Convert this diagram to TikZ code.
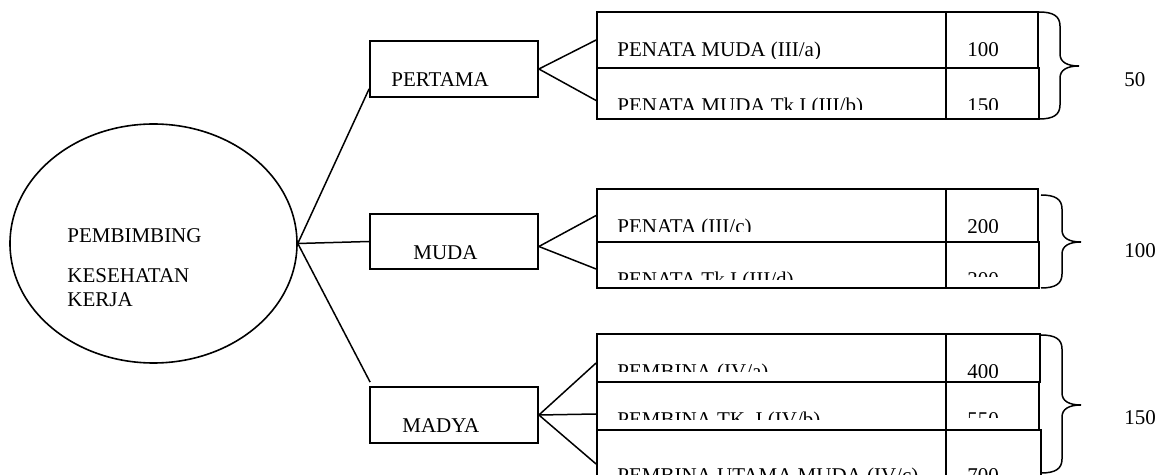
\documentclass[tikz,border=0pt]{standalone}
\usepackage{fontspec}
\setmainfont{Liberation Serif}
\usetikzlibrary{shapes.geometric,fit,calc}
\tikzset{
  conn/.style={draw, line width=0.75pt},
  cell/.style={draw, line width=0.9pt, inner sep=0pt},
  catbox/.style={draw, line width=0.9pt, inner sep=0pt},
  lbl/.style={anchor=base west, inner sep=0pt, font=\fontsize{10.5}{12.6}\selectfont},
}
% #1 id, #2 top, #3 bottom, #4 number-cell right, #5 name, #6 number, #7 name clip, #8 number clip, #9 baseline offset
\newcommand\rowcells[9]{%
  \node[cell, fit={(597,#2) (946,#3)}] (#1) {};
  \node[cell, fit={(946,#2) (#4,#3)}] (#1n) {};
  \begin{scope}
    \clip (597,#2) rectangle (946,#7);
    \node[lbl] (#1t) at (617,#2+#9) {#5};
  \end{scope}
  \begin{scope}
    \clip (946,#2) rectangle (#4,#8);
    \node[lbl] (#1v) at (967,#2+#9) {#6};
  \end{scope}
}
% #1 left x, #2 top, #3 bottom, #4 tip y
\newcommand\rbrc[4]{%
  \draw[conn] (#1,#2) .. controls (#1+14,#2) and (#1+21,#2+4) .. (#1+21,#2+14)
    -- (#1+21,#4-12) .. controls (#1+21,#4-4) and (#1+28,#4) .. (#1+40,#4)
    .. controls (#1+28,#4) and (#1+21,#4+4) .. (#1+21,#4+12)
    -- (#1+21,#3-14) .. controls (#1+21,#3-4) and (#1+14,#3) .. (#1,#3);
}
\begin{document}
\begin{tikzpicture}[x=0.5pt,y=-0.5pt]
\useasboundingbox (0,0) rectangle (1163,475);

% root
\node[draw, ellipse, line width=0.8pt, minimum width=143.5pt, minimum height=119.5pt, inner sep=0pt] (ell) at (153.5,243.5) {};
\node[lbl] (e1) at (67,243) {PEMBIMBING};
\node[lbl] (e2) at (67,283) {KESEHATAN};
\node[lbl] (e3) at (67,307) {KERJA};

% levels
\node[catbox, fit={(370,41) (538,97)}] (pertama) {};
\node[lbl] (pertamat) at (391,87) {PERTAMA};
\node[catbox, fit={(370,214) (538,269)}] (muda) {};
\node[lbl] (mudat) at (413,260) {MUDA};
\node[catbox, fit={(370,387) (538,443)}] (madya) {};
\node[lbl] (madyat) at (402,433) {MADYA};

% grade rows
\rowcells{r11}{12}{68}{1038}{PENATA MUDA (III/a)}{100}{59}{60}{45}
\rowcells{r12}{68}{119}{1039}{PENATA MUDA Tk I (III/b)}{150}{110}{110}{45}
\rowcells{r21}{189}{242}{1038}{PENATA (III/c)}{200}{232}{233}{45}
\rowcells{r22}{242}{288}{1039}{PENATA Tk I (III/d)}{300}{280}{277}{45}
\rowcells{r31}{334}{382}{1040}{PEMBINA (IV/a)}{400}{372}{378}{45}
\rowcells{r32}{382}{430}{1039}{PEMBINA TK. I (IV/b)}{550}{420}{418}{45}
\rowcells{r33}{430}{520}{1041}{PEMBINA UTAMA MUDA (IV/c)}{700}{500}{500}{53}

% connectors root -> levels
\draw[conn] (ell.east) -- ($(pertama.south west)+(0,-9)$);
\draw[conn] (ell.east) -- (muda.west);
\draw[conn] (ell.east) -- ($(madya.north west)+(1,-4)$);

% levels -> grades
\draw[conn] (pertama.east) -- (r11.west);
\draw[conn] (pertama.east) -- ($(r12.west)+(0,7)$);
\coordinate (mudaj) at ($(muda.east)+(0,5)$);
\draw[conn] (mudaj) -- (r21.west);
\draw[conn] (mudaj) -- ($(r22.west)+(0,4)$);
\draw[conn] (madya.east) -- ($(r31.west)+(0,5)$);
\draw[conn] (madya.east) -- ($(r32.west)+(0,8)$);
\draw[conn] (madya.east) -- ($(r33.west)+(0,-11)$);

% braces and totals
\rbrc{1039}{12}{119}{66}
\rbrc{1041}{195}{288}{242}
\rbrc{1041}{335}{473}{405}
\node[lbl] (s1) at (1124,87) {50};
\node[lbl] (s2) at (1124,258) {100};
\node[lbl] (s3) at (1124,425) {150};
\end{tikzpicture}
\end{document}
